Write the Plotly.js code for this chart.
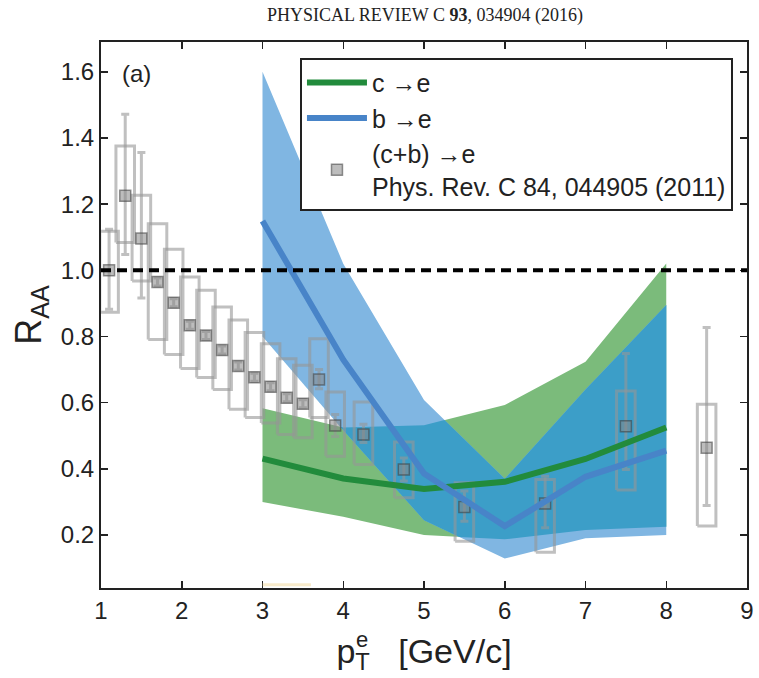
<!DOCTYPE html>
<html>
<head>
<meta charset="utf-8">
<script src="https://cdn.plot.ly/plotly-3.0.1.min.js"></script>
<style>
  html, body { margin: 0; padding: 0; background: #fff; }
  #chart { width: 759px; height: 678px; }
</style>
</head>
<body>
<div id="chart"></div>
<script>
// PHENIX heavy-flavour electrons (c+b)->e, Au+Au 200 GeV
const ptData   = [1.1, 1.3, 1.5, 1.7, 1.9, 2.1, 2.3, 2.5, 2.7, 2.9, 3.1, 3.3, 3.5, 3.7, 3.9, 4.25, 4.75, 5.5, 6.5, 7.5, 8.5];
const raaData  = [1.00, 1.225, 1.096, 0.965, 0.902, 0.834, 0.803, 0.759, 0.711, 0.677, 0.648, 0.615, 0.597, 0.670, 0.531, 0.504, 0.398, 0.285, 0.295, 0.529, 0.464];
const statUp   = [0.124, 0.247, 0.260, 0.012, 0.012, 0.012, 0.012, 0.012, 0.012, 0.012, 0.012, 0.012, 0.012, 0.030, 0.033, 0.031, 0.035, 0.048, 0.083, 0.220, 0.363];
const statDown = [0.118, 0.177, 0.180, 0.012, 0.012, 0.012, 0.012, 0.012, 0.012, 0.012, 0.012, 0.012, 0.012, 0.028, 0.033, 0.024, 0.035, 0.043, 0.073, 0.131, 0.175];
const sysLow   = [0.873, 1.084, 0.968, 0.791, 0.746, 0.703, 0.676, 0.640, 0.580, 0.555, 0.539, 0.504, 0.494, 0.555, 0.438, 0.413, 0.313, 0.181, 0.148, 0.336, 0.227];
const sysHigh  = [1.118, 1.376, 1.227, 1.141, 1.064, 0.980, 0.940, 0.889, 0.850, 0.812, 0.778, 0.733, 0.713, 0.793, 0.632, 0.602, 0.481, 0.358, 0.368, 0.635, 0.595];

// model curves and uncertainty bands
const ptModel    = [3, 4, 5, 6, 7, 8];
const charmRaa   = [0.431, 0.371, 0.339, 0.361, 0.430, 0.525];
const charmLow   = [0.300, 0.255, 0.200, 0.187, 0.215, 0.225];
const charmHigh  = [0.583, 0.525, 0.532, 0.593, 0.724, 1.021];
const bottomRaa  = [1.149, 0.730, 0.386, 0.227, 0.376, 0.455];
const bottomLow  = [0.800, 0.517, 0.245, 0.129, 0.190, 0.200];
const bottomHigh = [1.600, 1.020, 0.608, 0.370, 0.640, 0.895];

const xTicks = [1, 2, 3, 4, 5, 6, 7, 8, 9];
const yTicks = [0.2, 0.4, 0.6, 0.8, 1.0, 1.2, 1.4, 1.6];

const SANS = 'Liberation Sans, Arial, sans-serif';
const BOX_HALF = 0.115;

// closed polygon for a band between lower and upper edges
function bandPolygon(x, lo, hi) {
  return {
    x: x.concat(x.slice().reverse()),
    y: hi.concat(lo.slice().reverse())
  };
}

// exact intersection of two piecewise-linear bands defined on the same x nodes
function overlapBand(x, loA, hiA, loB, hiB) {
  const xs = [], los = [], his = [];
  const lerp = (a, b, t) => a + (b - a) * t;
  const cross = (d0, d1) => (d0 * d1 < 0) ? d0 / (d0 - d1) : null;
  for (let i = 0; i < x.length - 1; i++) {
    const seg = t => {
      const la = lerp(loA[i], loA[i + 1], t), lb = lerp(loB[i], loB[i + 1], t);
      const ha = lerp(hiA[i], hiA[i + 1], t), hb = lerp(hiB[i], hiB[i + 1], t);
      return { lo: Math.max(la, lb), hi: Math.min(ha, hb) };
    };
    let ts = [0, 1];
    const c1 = cross(loA[i] - loB[i], loA[i + 1] - loB[i + 1]);
    const c2 = cross(hiA[i] - hiB[i], hiA[i + 1] - hiB[i + 1]);
    if (c1 !== null) ts.push(c1);
    if (c2 !== null) ts.push(c2);
    ts.sort((a, b) => a - b);
    const full = [];
    for (let k = 0; k < ts.length - 1; k++) {
      const t0 = ts[k], t1 = ts[k + 1];
      full.push(t0);
      const s0 = seg(t0), s1 = seg(t1);
      const c3 = cross(s0.hi - s0.lo, s1.hi - s1.lo);
      if (c3 !== null) full.push(lerp(t0, t1, c3));
    }
    if (i === x.length - 2) full.push(1);
    full.forEach(t => {
      const s = seg(t);
      xs.push(lerp(x[i], x[i + 1], t));
      los.push(s.lo);
      his.push(Math.max(s.lo, s.hi));
    });
  }
  return bandPolygon(xs, los, his);
}

// outlines of the systematic-uncertainty boxes
function sysBoxes(x, lo, hi, half) {
  const bx = [], by = [];
  x.forEach((xc, i) => {
    bx.push(xc - half, xc + half, xc + half, xc - half, xc - half, null);
    by.push(lo[i], lo[i], hi[i], hi[i], lo[i], null);
  });
  return { x: bx, y: by };
}

const charmBand = bandPolygon(ptModel, charmLow, charmHigh);
const bottomBand = bandPolygon(ptModel, bottomLow, bottomHigh);
const bothBand = overlapBand(ptModel, charmLow, charmHigh, bottomLow, bottomHigh);
const boxes = sysBoxes(ptData, sysLow, sysHigh, BOX_HALF);

const traces = [
  { x: charmBand.x, y: charmBand.y, type: 'scatter', mode: 'lines', fill: 'toself',
    fillcolor: '#7bbb7b', line: { width: 0 }, showlegend: false, hoverinfo: 'skip' },
  { x: bottomBand.x, y: bottomBand.y, type: 'scatter', mode: 'lines', fill: 'toself',
    fillcolor: '#80b6e2', line: { width: 0 }, showlegend: false, hoverinfo: 'skip' },
  { x: bothBand.x, y: bothBand.y, type: 'scatter', mode: 'lines', fill: 'toself',
    fillcolor: '#3c9ec8', line: { width: 0 }, showlegend: false, hoverinfo: 'skip' },
  { x: boxes.x, y: boxes.y, type: 'scatter', mode: 'lines',
    line: { color: 'rgba(150,150,150,0.6)', width: 3 }, showlegend: false, hoverinfo: 'skip' },
  { x: ptData, y: raaData, type: 'scatter', mode: 'markers',
    name: '(c+b) \u2192e<br>Phys. Rev. C 84, 044905 (2011)', legendrank: 3,
    marker: { symbol: 'square', size: 11, color: 'rgba(135,135,135,0.55)',
              line: { color: 'rgba(60,60,60,0.55)', width: 1.5 } },
    error_y: { type: 'data', symmetric: false, array: statUp, arrayminus: statDown,
               color: 'rgba(150,150,150,0.6)', thickness: 3, width: 4 } },
  { x: ptModel, y: charmRaa, type: 'scatter', mode: 'lines', name: 'c \u2192e', legendrank: 1,
    line: { color: '#228b3c', width: 6 } },
  { x: ptModel, y: bottomRaa, type: 'scatter', mode: 'lines', name: 'b \u2192e', legendrank: 2,
    line: { color: '#4884c8', width: 6 } }
];

const axisCommon = {
  ticks: 'inside', ticklen: 7, tickwidth: 1.5, tickcolor: '#222',
  showline: true, linewidth: 2, linecolor: '#222', mirror: 'ticks',
  showgrid: false, zeroline: false,
  tickfont: { family: SANS, size: 24, color: '#222' }
};

const layout = {
  width: 759, height: 678,
  margin: { l: 101, r: 12, t: 42, b: 90 },
  paper_bgcolor: '#fff', plot_bgcolor: '#fff',
  showlegend: true,
  legend: {
    x: 0.308, y: 0.971, xanchor: 'left', yanchor: 'top',
    bgcolor: '#fff', bordercolor: '#222', borderwidth: 2,
    font: { family: SANS, size: 25, color: '#222' },
    itemwidth: 60, valign: 'middle', tracegroupgap: 0
  },
  xaxis: Object.assign({}, axisCommon, {
    range: [1, 9], tickvals: xTicks, ticktext: xTicks.map(String),
    title: { text: 'p<sub>T</sub>   [GeV/c]', font: { family: SANS, size: 34, color: '#222' }, standoff: 16 }
  }),
  yaxis: Object.assign({}, axisCommon, {
    range: [0.04, 1.69], tickvals: yTicks, ticktext: yTicks.map(v => v.toFixed(1)),
    title: { text: 'R<sub>AA</sub>', font: { family: SANS, size: 36, color: '#222' }, standoff: 8 }
  }),
  shapes: [
    { type: 'line', xref: 'x', yref: 'y', x0: 1, x1: 9, y0: 1, y1: 1, layer: 'above',
      line: { color: '#000', width: 4, dash: '10px,6px' } },
    { type: 'line', xref: 'x', yref: 'paper', x0: 3.0, x1: 3.6, y0: 0.006, y1: 0.006, layer: 'above',
      line: { color: 'rgba(240,210,140,0.45)', width: 3 } }
  ],
  annotations: [
    { text: '(a)', xref: 'paper', yref: 'paper', x: 0.029, y: 0.943, xanchor: 'left', yanchor: 'middle',
      showarrow: false, font: { family: SANS, size: 24, color: '#222' } },
    { text: 'e', xref: 'paper', yref: 'paper', x: 0.404, y: -0.095, xanchor: 'center', yanchor: 'middle',
      showarrow: false, font: { family: SANS, size: 22, color: '#222' } },
    { text: 'PHYSICAL REVIEW C <b>93</b>, 034904 (2016)', xref: 'paper', yref: 'paper',
      x: 0.5015, y: 1.049, xanchor: 'center', yanchor: 'middle', showarrow: false,
      font: { family: 'Liberation Serif, Times New Roman, serif', size: 18, color: '#222' } }
  ]
};

Plotly.newPlot('chart', traces, layout, { displayModeBar: false, staticPlot: true });
</script>
</body>
</html>
